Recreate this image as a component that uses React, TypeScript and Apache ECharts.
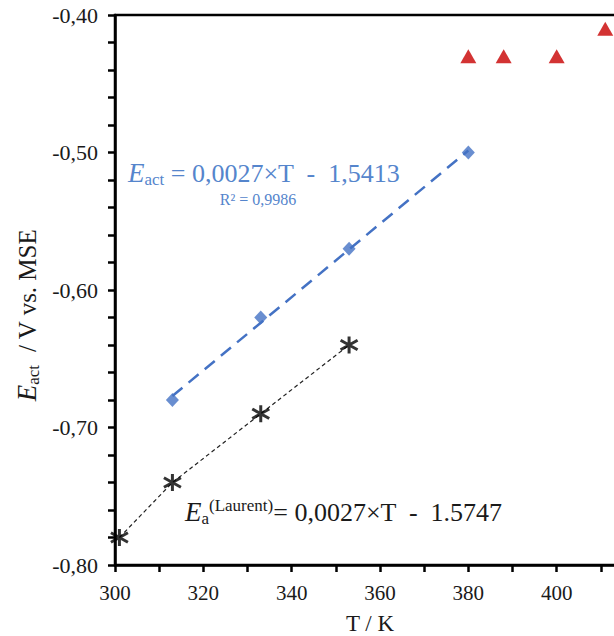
import React, { useEffect, useRef } from "react";
import * as echarts from "echarts";

// Data
const blueT = [313, 333, 353, 380];
const blueE = [-0.68, -0.62, -0.57, -0.5];
const blackT = [301, 313, 333, 353];
const blackE = [-0.78, -0.74, -0.69, -0.64];
const redT = [380, 388, 400, 411];
const redE = [-0.43, -0.43, -0.43, -0.41];

const xTicks = { min: 300, max: 420, interval: 20 };
const yTicks = { min: -0.8, max: -0.4, interval: 0.1 };

const SERIF = "Liberation Serif";
const BLUE = "#4472C4";
const BLUE_TXT = "#5585CC";
const RED = "#C80000";

function linFit(xs: number[], ys: number[]) {
  const n = xs.length;
  const mx = xs.reduce((a, b) => a + b, 0) / n;
  const my = ys.reduce((a, b) => a + b, 0) / n;
  let sxy = 0, sxx = 0;
  for (let i = 0; i < n; i++) {
    sxy += (xs[i] - mx) * (ys[i] - my);
    sxx += (xs[i] - mx) * (xs[i] - mx);
  }
  const slope = sxy / sxx;
  return { slope, intercept: my - slope * mx };
}

const STAR = "path://M8 0 L8 16 M0 3.5 L16 12.5 M0 12.5 L16 3.5";

export default function App() {
  const ref = useRef<HTMLDivElement>(null);
  useEffect(() => {
    document.body.style.margin = "0";
    if (!ref.current) return;
    const chart = echarts.init(ref.current, undefined, { renderer: "svg" });
    const fit = linFit(blueT, blueE);
    const x0 = blueT[0];
    const x1 = blueT[blueT.length - 1];
    const trend = [
      [x0, fit.slope * x0 + fit.intercept],
      [x1, fit.slope * x1 + fit.intercept],
    ];
    chart.setOption({
      animation: false,
      textStyle: { fontFamily: SERIF },
      grid: {
        left: 115,
        top: 15,
        width: 530,
        height: 550,
        show: true,
        borderColor: "#000",
        borderWidth: 2.5,
        containLabel: false,
        outerBoundsMode: "none",
      },
      xAxis: {
        type: "value",
        min: xTicks.min,
        max: xTicks.max,
        interval: xTicks.interval,
        axisLine: { show: true, lineStyle: { color: "#000", width: 2.5 } },
        axisTick: { show: true, length: 7, lineStyle: { color: "#000", width: 2.5 } },
        minorTick: { show: true, splitNumber: 2, length: 7, lineStyle: { color: "#000", width: 2.5 } },
        splitLine: { show: false },
        axisLabel: {
          margin: 17,
          fontFamily: SERIF,
          fontSize: 21,
          color: "#1a1a1a",
          showMaxLabel: false,
        },
      },
      yAxis: {
        type: "value",
        min: yTicks.min,
        max: yTicks.max,
        interval: yTicks.interval,
        axisLine: { show: true, lineStyle: { color: "#000", width: 2.5 } },
        axisTick: { show: true, length: 7, lineStyle: { color: "#000", width: 2.5 } },
        minorTick: { show: true, splitNumber: 5, length: 7, lineStyle: { color: "#000", width: 2.5 } },
        splitLine: { show: false },
        axisLabel: {
          margin: 17,
          fontFamily: SERIF,
          fontSize: 22,
          color: "#1a1a1a",
          formatter: (v: number) => v.toFixed(2).replace(".", ","),
        },
      },
      series: [
        {
          type: "line",
          data: trend,
          symbol: "none",
          lineStyle: { color: BLUE, width: 2.5, type: [13, 8] },
          z: 2,
        },
        {
          type: "line",
          data: blackT.map((t, i) => [t, blackE[i]]),
          symbol: "none",
          lineStyle: { color: "#222", width: 1.2, type: [4, 3] },
          z: 2,
        },
        {
          type: "scatter",
          data: blueT.map((t, i) => [t, blueE[i]]),
          symbol: "diamond",
          symbolSize: [13, 14],
          itemStyle: { color: BLUE },
          z: 3,
        },
        {
          type: "scatter",
          data: blackT.map((t, i) => [t, blackE[i]]),
          symbol: STAR,
          symbolSize: 17,
          itemStyle: { color: "none", borderColor: "#000", borderWidth: 3 },
          z: 3,
        },
        {
          type: "scatter",
          data: redT.map((t, i) => [t, redE[i]]),
          symbol: "triangle",
          symbolSize: [16, 14],
          itemStyle: { color: RED },
          z: 3,
        },
      ],
      graphic: [
        {
          type: "text",
          x: 370,
          y: 623,
          style: {
            text: "T / K",
            fontFamily: SERIF,
            fontSize: 23,
            fill: "#1a1a1a",
            align: "center",
            verticalAlign: "middle",
          },
        },
        {
          type: "text",
          x: 27,
          y: 315,
          rotation: Math.PI / 2,
          style: {
            text: "{e|E}{s|act}{n|  / V vs. MSE}",
            align: "center",
            verticalAlign: "middle",
            rich: {
              e: { fontFamily: SERIF, fontSize: 27, fontStyle: "italic", fill: "#1a1a1a", lineHeight: 30 },
              s: { fontFamily: SERIF, fontSize: 17, fill: "#1a1a1a", verticalAlign: "bottom", lineHeight: 16 },
              n: { fontFamily: SERIF, fontSize: 25, fill: "#1a1a1a", lineHeight: 30 },
            },
          },
        },
        {
          type: "text",
          x: 128,
          y: 173,
          style: {
            text: "{e|E}{s|act}{n| = 0,0027×T  -  1,5413}",
            align: "left",
            verticalAlign: "middle",
            rich: {
              e: { fontFamily: SERIF, fontSize: 27, fontStyle: "italic", fill: BLUE_TXT, lineHeight: 30 },
              s: { fontFamily: SERIF, fontSize: 17, fill: BLUE_TXT, verticalAlign: "bottom", lineHeight: 16 },
              n: { fontFamily: SERIF, fontSize: 26, fill: BLUE_TXT, lineHeight: 30 },
            },
          },
        },
        {
          type: "text",
          x: 258,
          y: 199,
          style: {
            text: "R² = 0,9986",
            fontFamily: SERIF,
            fontSize: 16,
            fill: BLUE_TXT,
            align: "center",
            verticalAlign: "middle",
          },
        },
        {
          type: "text",
          x: 185,
          y: 512,
          style: {
            text: "{e|E}{s|a}{p|(Laurent)}{n|= 0,0027×T  -  1.5747}",
            align: "left",
            verticalAlign: "middle",
            rich: {
              e: { fontFamily: SERIF, fontSize: 27, fontStyle: "italic", fill: "#1a1a1a", lineHeight: 30 },
              s: { fontFamily: SERIF, fontSize: 17, fill: "#1a1a1a", verticalAlign: "bottom", lineHeight: 16 },
              p: { fontFamily: SERIF, fontSize: 17, fill: "#1a1a1a", verticalAlign: "top", lineHeight: 16 },
              n: { fontFamily: SERIF, fontSize: 26, fill: "#1a1a1a", lineHeight: 30 },
            },
          },
        },
      ],
    });
    return () => chart.dispose();
  }, []);
  return <div ref={ref} style={{ width: 614, height: 636 }} />;
}
